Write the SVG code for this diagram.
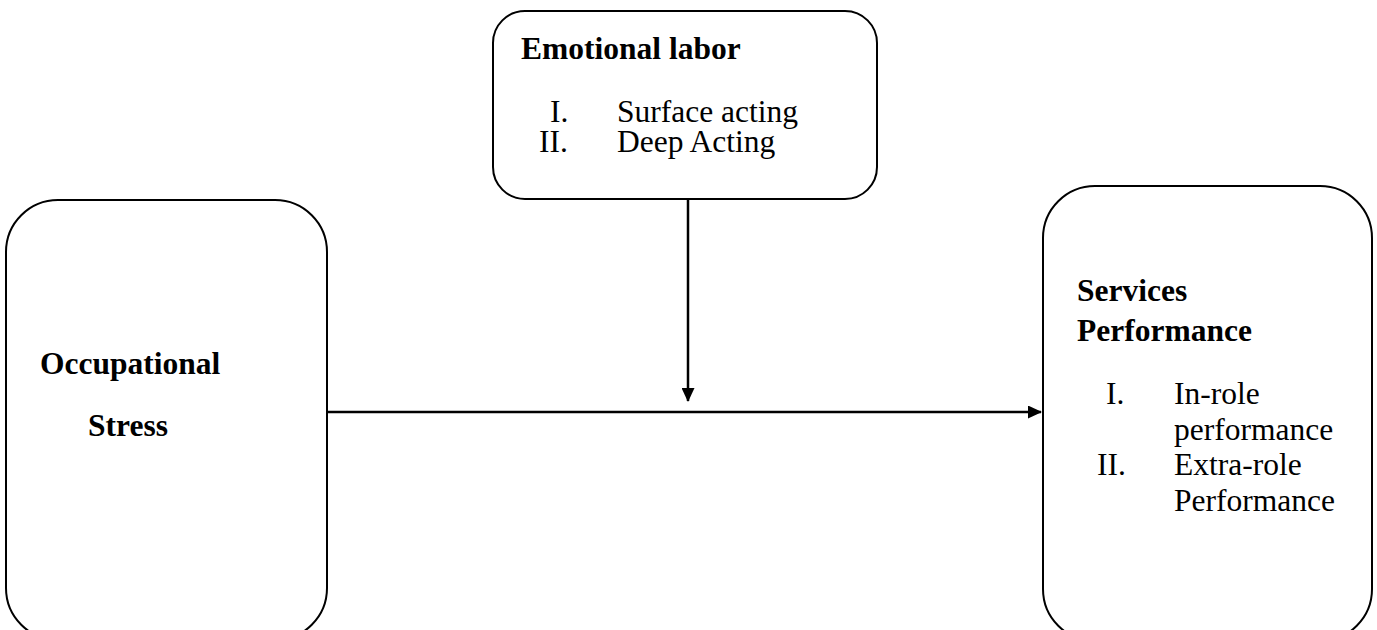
<svg xmlns="http://www.w3.org/2000/svg" width="1377" height="630" viewBox="0 0 1377 630">
<style>
.box{fill:#fff;stroke:#000;stroke-width:2}
.t{font-family:"Liberation Serif","Times New Roman",serif;font-size:31.5px;fill:#000}
.b{font-weight:bold}
.line{stroke:#000;stroke-width:2.5;fill:none}
</style>
<defs>
<marker id="arr" markerWidth="14" markerHeight="13" refX="13" refY="6.5" orient="auto" markerUnits="userSpaceOnUse">
<path d="M0,0 L14,6.5 L0,13 Z" fill="#000"/>
</marker>
</defs>
<rect width="1377" height="630" fill="#fff"/>
<g id="connectors">
<line class="line" x1="328" y1="412" x2="1041" y2="412" marker-end="url(#arr)"/>
<line class="line" x1="688" y1="199" x2="688" y2="401" marker-end="url(#arr)"/>
</g>
<g id="emotional-labor">
<rect class="box" x="493" y="11" width="384" height="188" rx="32" ry="32"/>
<text class="t b" x="521" y="59">Emotional labor</text>
<text class="t" x="550" y="122">I.</text>
<text class="t" x="617" y="122">Surface acting</text>
<text class="t" x="539" y="152">II.</text>
<text class="t" x="617" y="152">Deep Acting</text>
</g>
<g id="occupational-stress">
<rect class="box" x="6" y="200" width="321" height="440" rx="52" ry="52"/>
<text class="t b" x="40" y="374">Occupational</text>
<text class="t b" x="88" y="436">Stress</text>
</g>
<g id="services-performance">
<rect class="box" x="1043" y="186" width="329" height="455" rx="52" ry="52"/>
<text class="t b" x="1077" y="301">Services</text>
<text class="t b" x="1077" y="341">Performance</text>
<text class="t" x="1106" y="404">I.</text>
<text class="t" x="1174" y="404">In-role</text>
<text class="t" x="1174" y="440">performance</text>
<text class="t" x="1097" y="475">II.</text>
<text class="t" x="1174" y="475">Extra-role</text>
<text class="t" x="1174" y="511">Performance</text>
</g>
</svg>
